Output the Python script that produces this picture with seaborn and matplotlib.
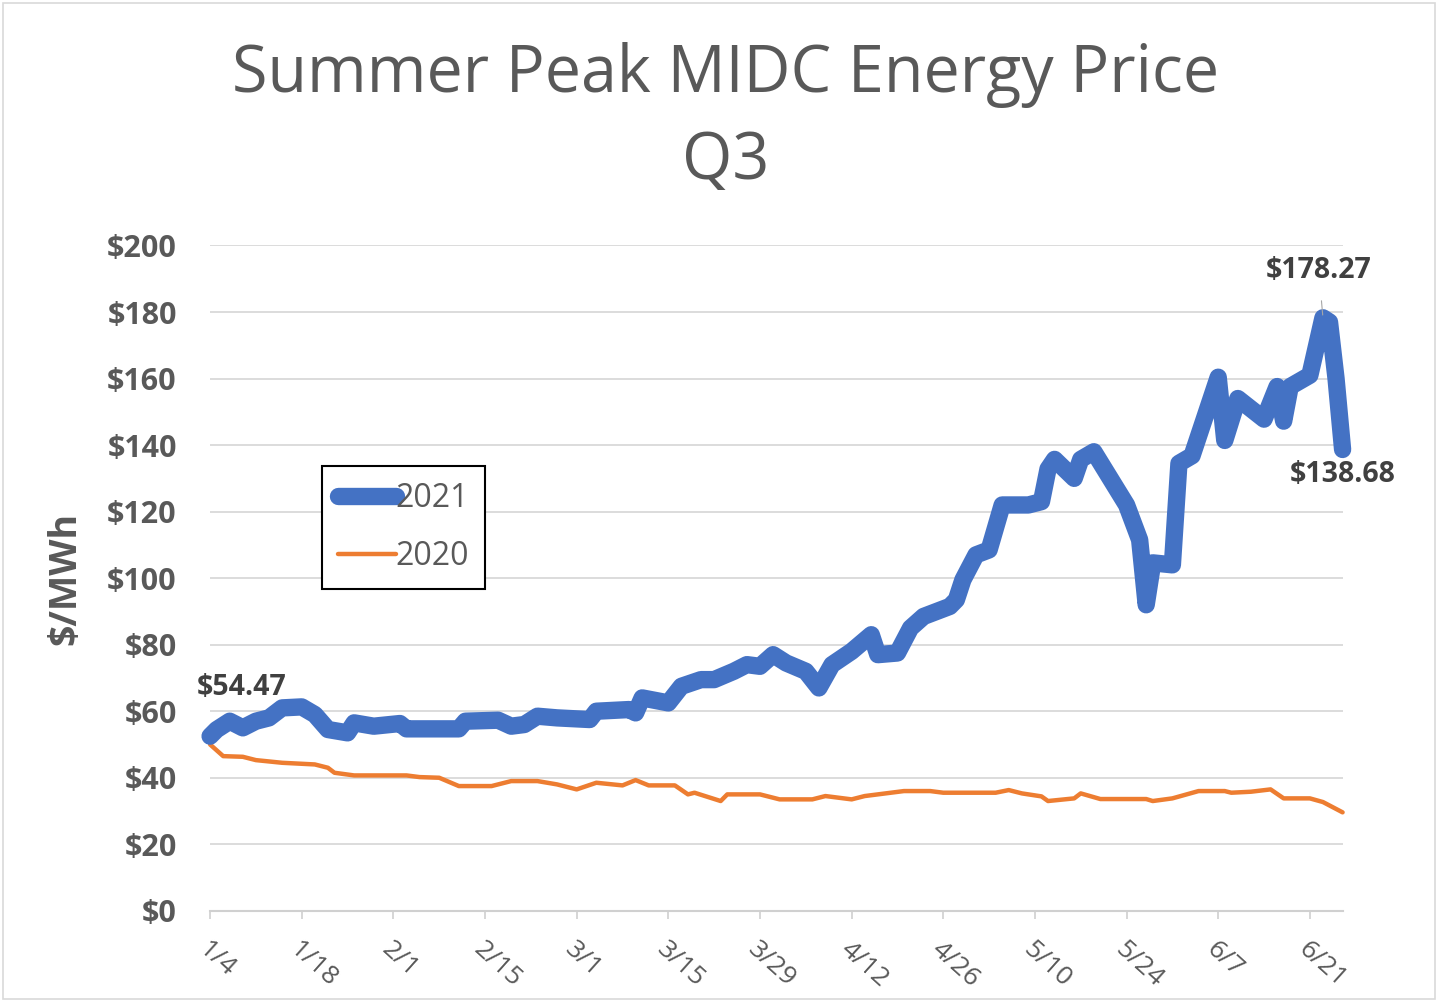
import pandas as pd
import seaborn as sns
import matplotlib.pyplot as plt
from matplotlib.patches import Rectangle

# days after 1/4/2021 and price in $/MWh
days_2021 = [0, 1, 3, 5, 7, 9, 11, 14, 16, 18, 21, 22, 25, 29, 30, 38, 39, 44, 46, 48,
             50, 53, 58, 59, 64, 65, 66, 70, 72, 75, 77, 80, 82, 84, 86, 88, 91, 93, 95, 98,
             101, 102, 105, 107, 109, 113, 114, 115, 117, 119, 121, 125, 127, 128, 129, 132, 133, 135, 140, 142,
             143, 144, 147, 148, 150, 154, 155, 157, 161, 163, 164, 165, 168, 170, 171, 172, 173]
price_2021 = [52.5, 54.47, 57, 55, 57, 58, 61, 61.3, 59, 54.5, 53.5, 56.5, 55.5, 56.3, 54.7, 54.7, 57, 57.3, 55.5, 56,
              58.5, 58, 57.5, 60, 60.5, 59.5, 64, 62.5, 67.5, 69.5, 69.5, 72, 74, 73.5, 77, 74.5, 72, 67, 74, 78,
              83, 77, 77.5, 85, 88.5, 91.5, 93.5, 99.5, 107, 108.5, 122, 122, 123, 132.8, 135.7, 130, 135.7, 138, 122, 111.5,
              92, 104.6, 104, 134.5, 136.8, 160.4, 141.4, 154, 147.8, 157.6, 147.2, 157.6, 161, 178.27, 177, 160, 138.68]

days_2020 = [0, 2, 5, 7, 11, 16, 18, 19, 22, 30, 32, 35, 38, 43, 45, 46, 50, 53, 56, 59,
             63, 65, 67, 71, 73, 74, 78, 79, 84, 87, 92, 94, 98, 100, 106, 110, 112, 120, 122, 124,
             127, 128, 132, 133, 136, 143, 144, 147, 151, 155, 156, 159, 162, 164, 168, 170, 173]
price_2020 = [50, 46.5, 46.3, 45.3, 44.5, 44, 43, 41.5, 40.7, 40.7, 40.2, 40, 37.5, 37.5, 38.5, 39, 39, 38, 36.5, 38.5,
              37.7, 39.3, 37.7, 37.7, 35, 35.5, 33, 35, 35, 33.5, 33.5, 34.5, 33.5, 34.5, 36, 36, 35.5, 35.5, 36.3, 35.3,
              34.4, 33, 33.8, 35.3, 33.6, 33.6, 33, 33.8, 36, 36, 35.5, 35.8, 36.5, 33.8, 33.8, 32.7, 29.6]

tick_days = list(range(0, 169, 14))
tick_labels = ["1/4", "1/18", "2/1", "2/15", "3/1", "3/15", "3/29", "4/12",
               "4/26", "5/10", "5/24", "6/7", "6/21"]
y_ticks = list(range(0, 201, 20))
y_labels = [f"${v}" for v in y_ticks]

sns.set_theme(style="white")
plt.rcParams["font.family"] = ["Open Sans", "DejaVu Sans"]

grey = "#595959"
fig = plt.figure(figsize=(14.39, 10.02), dpi=100)
ax = fig.add_axes([0.146, 0.091, 0.787, 0.664])

df21 = pd.DataFrame({"day": days_2021, "price": price_2021})
df20 = pd.DataFrame({"day": days_2020, "price": price_2020})

sns.lineplot(data=df21, x="day", y="price", ax=ax, color="#4472C4", lw=12.5,
             label="2021", solid_capstyle="round", solid_joinstyle="round", zorder=3,
             clip_on=False)
sns.lineplot(data=df20, x="day", y="price", ax=ax, color="#ED7D31", lw=3.2,
             label="2020", solid_capstyle="round", zorder=2, clip_on=False)

ax.set_xlim(0, 173)
ax.set_ylim(0, 200)
ax.set_yticks(y_ticks)
ax.set_yticklabels(y_labels, fontsize=22, fontweight="bold", color=grey)
ax.set_xticks(tick_days)
ax.set_xticklabels(tick_labels, fontsize=19, color=grey, rotation=-42,
                   ha="left", va="top", rotation_mode="anchor")
for lab in ax.get_xticklabels():
    lab.set_x(lab.get_position()[0])
ax.tick_params(axis="y", length=0, pad=24)
ax.tick_params(axis="x", length=6, width=1.2, color="#d0d0d0", pad=13, direction="out", bottom=True)
ax.set_xlabel("")
ax.set_ylabel("$/MWh", fontsize=27, fontweight="bold", color=grey, labelpad=16)

ax.yaxis.grid(True, color="#d9d9d9", lw=1.3)
ax.xaxis.grid(False)
for s in ["left", "right", "top"]:
    ax.spines[s].set_visible(False)
ax.spines["bottom"].set_color("#d0d0d0")
ax.spines["bottom"].set_linewidth(1.5)

leg = ax.legend(loc="upper left", bbox_to_anchor=(0.099, 0.669), borderaxespad=0,
                fontsize=23, frameon=True, fancybox=False, framealpha=1,
                edgecolor="black", handlelength=1.8, handletextpad=0.0,
                borderpad=0.5, labelspacing=0.8)
leg.get_frame().set_linewidth(1.5)
for t in leg.get_texts():
    t.set_color(grey)

note = dict(fontsize=20.5, fontweight="bold", color="#404040", ha="center", va="center")
ax.annotate("$54.47", xy=(days_2021[1], price_2021[1]), xytext=(18, 30),
            textcoords="offset points", **note)
ax.annotate("$178.27", xy=(days_2021[-4], price_2021[-4]), xytext=(-3, 34),
            textcoords="offset points",
            arrowprops=dict(arrowstyle="-", color="#a6a6a6", lw=0.8, shrinkA=9, shrinkB=2), **note)
ax.annotate("$138.68", xy=(days_2021[-1], price_2021[-1]), xytext=(0, -18),
            textcoords="offset points", **note)

fig.text(0.504, 1 - 75 / 1002, "Summer Peak MIDC Energy Price", fontsize=46.5,
         color=grey, ha="center", va="center")
fig.text(0.504, 1 - 162 / 1002, "Q3", fontsize=46.5, color=grey, ha="center", va="center")

fig.patches.append(Rectangle((0.002, 0.003), 0.995, 0.994, transform=fig.transFigure,
                             fill=False, edgecolor="#d9d9d9", lw=1.2))

fig.savefig("out.png", dpi=100)
